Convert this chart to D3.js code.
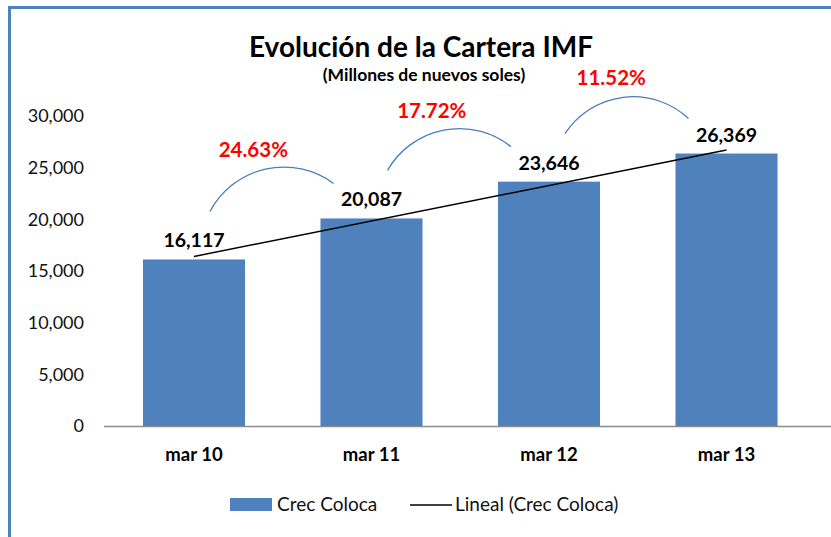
<!DOCTYPE html>
<html lang="es">
<head>
<meta charset="utf-8">
<script src="https://d3js.org/d3.v7.min.js"></script>
<title>Evolución de la Cartera IMF</title>
<style>
  body { margin: 0; background: #fff; }
  svg { display: block; font-family: Lato, "Open Sans", sans-serif; }
</style>
</head>
<body>
<div id="chart"></div>
<script>
// Data
var categories = ["mar 10", "mar 11", "mar 12", "mar 13"];
var values = [16117, 20087, 23646, 26369];
var growth = ["24.63%", "17.72%", "11.52%"];
var yTicks = [0, 5000, 10000, 15000, 20000, 25000, 30000];
var legendLabels = ["Crec Coloca", "Lineal (Crec Coloca)"];

var W = 831, H = 537;
var barColor = "#4f81bd";
var arcColor = "#4a7ebb";

var svg = d3.select("#chart").append("svg")
  .attr("width", W)
  .attr("height", H);

// outer frame (only top and left edges fall inside the window)
svg.append("path")
  .attr("d", "M9.5," + H + "V7.5H" + W)
  .attr("fill", "none")
  .attr("stroke", "#4f81bd")
  .attr("stroke-width", 3);

// scales
var x = d3.scaleBand()
  .domain(categories)
  .range([105.25, 815.25])
  .paddingInner(0.425)
  .paddingOuter(0.2125);

var y = d3.scaleLinear()
  .domain([0, 30000])
  .range([426, 116]);

var fmt = d3.format(",");

// title
svg.append("text")
  .attr("x", 421).attr("y", 57)
  .attr("text-anchor", "middle")
  .style("font-size", "28px")
  .style("font-weight", "bold")
  .attr("fill", "#000")
  .text("Evolución de la Cartera IMF");

svg.append("text")
  .attr("x", 424).attr("y", 81)
  .attr("text-anchor", "middle")
  .style("font-size", "17.5px")
  .style("font-weight", "bold")
  .attr("fill", "#000")
  .text("(Millones de nuevos soles)");

// y axis (labels only)
var yAxis = svg.append("g")
  .attr("transform", "translate(84,0)")
  .call(d3.axisLeft(y).tickValues(yTicks).tickFormat(fmt).tickSize(0).tickPadding(0));
yAxis.select(".domain").remove();
yAxis.selectAll("text")
  .style("font-family", "Lato, sans-serif")
  .style("font-size", "18px")
  .attr("fill", "#111");

// baseline
svg.append("line")
  .attr("x1", 104).attr("x2", W)
  .attr("y1", y(0) + 0.5).attr("y2", y(0) + 0.5)
  .attr("stroke", "#8c8c8c")
  .attr("stroke-width", 1.5);

// bars
svg.selectAll(".bar")
  .data(values)
  .enter()
  .append("rect")
  .attr("class", "bar")
  .attr("x", (d, i) => x(categories[i]))
  .attr("y", d => y(d))
  .attr("width", x.bandwidth())
  .attr("height", d => y(0) - y(d))
  .attr("fill", barColor);

// category labels
var xAxis = svg.append("g")
  .attr("transform", "translate(0," + y(0) + ")")
  .call(d3.axisBottom(x).tickSize(0).tickPadding(22));
xAxis.select(".domain").remove();
xAxis.selectAll("text")
  .style("font-family", "Lato, sans-serif")
  .style("font-size", "18.5px")
  .style("font-weight", "bold")
  .attr("fill", "#000");

// linear trend line (least squares, as the spreadsheet's "Lineal" trendline)
var n = values.length;
var mx = d3.mean(values, (d, i) => i);
var my = d3.mean(values);
var slope = d3.sum(values, (d, i) => (i - mx) * (d - my)) / d3.sum(values, (d, i) => (i - mx) * (i - mx));
var icpt = my - slope * mx;
var cx = c => x(c) + x.bandwidth() / 2;

svg.append("line")
  .attr("x1", cx(categories[0]))
  .attr("y1", y(icpt))
  .attr("x2", cx(categories[n - 1]))
  .attr("y2", y(icpt + slope * (n - 1)))
  .attr("stroke", "#000")
  .attr("stroke-width", 1.5);

// value labels
svg.selectAll(".vlabel")
  .data(values)
  .enter()
  .append("text")
  .attr("class", "vlabel")
  .attr("x", (d, i) => cx(categories[i]))
  .attr("y", d => y(d) - 12)
  .attr("text-anchor", "middle")
  .style("font-size", "19.5px")
  .style("font-weight", "bold")
  .attr("fill", "#000")
  .text(d => fmt(d));

// growth arcs between consecutive bars (circular arcs with a fixed bulge)
var sag = 29;
var arcs = growth.map((g, i) => {
  var p0 = [cx(categories[i]) + 16, y(values[i]) - 48];
  var p3 = [cx(categories[i + 1]) - 38, y(values[i + 1]) - 35];
  var dx = p3[0] - p0[0], dy = p3[1] - p0[1];
  var L = Math.sqrt(dx * dx + dy * dy);
  var r = (L * L / 4 + sag * sag) / (2 * sag);
  var peak = [(p0[0] + p3[0]) / 2 + sag * dy / L, (p0[1] + p3[1]) / 2 - sag * dx / L];
  return { label: g, p0: p0, p3: p3, r: r, peak: peak };
});

svg.selectAll(".arc")
  .data(arcs)
  .enter()
  .append("path")
  .attr("class", "arc")
  .attr("d", d => "M" + d.p0 + "A" + d.r + "," + d.r + " 0 0 1 " + d.p3)
  .attr("fill", "none")
  .attr("stroke", arcColor)
  .attr("stroke-width", 1.3);

svg.selectAll(".glabel")
  .data(arcs)
  .enter()
  .append("text")
  .attr("class", "glabel")
  .attr("x", d => d.peak[0] - 12)
  .attr("y", d => d.peak[1] - 12)
  .attr("text-anchor", "middle")
  .style("font-size", "20.5px")
  .style("font-weight", "bold")
  .attr("fill", "#ff0000")
  .text(d => d.label);

// legend
var legend = svg.append("g").attr("transform", "translate(230,505)");
legend.append("rect")
  .attr("x", 0).attr("y", -7)
  .attr("width", 42).attr("height", 13)
  .attr("fill", barColor);
legend.append("text")
  .attr("x", 47).attr("y", 6)
  .style("font-size", "19px")
  .attr("fill", "#111")
  .text(legendLabels[0]);
legend.append("line")
  .attr("x1", 180).attr("x2", 222)
  .attr("y1", 0).attr("y2", 0)
  .attr("stroke", "#000")
  .attr("stroke-width", 1.3);
legend.append("text")
  .attr("x", 225).attr("y", 6)
  .style("font-size", "19px")
  .attr("fill", "#111")
  .text(legendLabels[1]);
</script>
</body>
</html>
